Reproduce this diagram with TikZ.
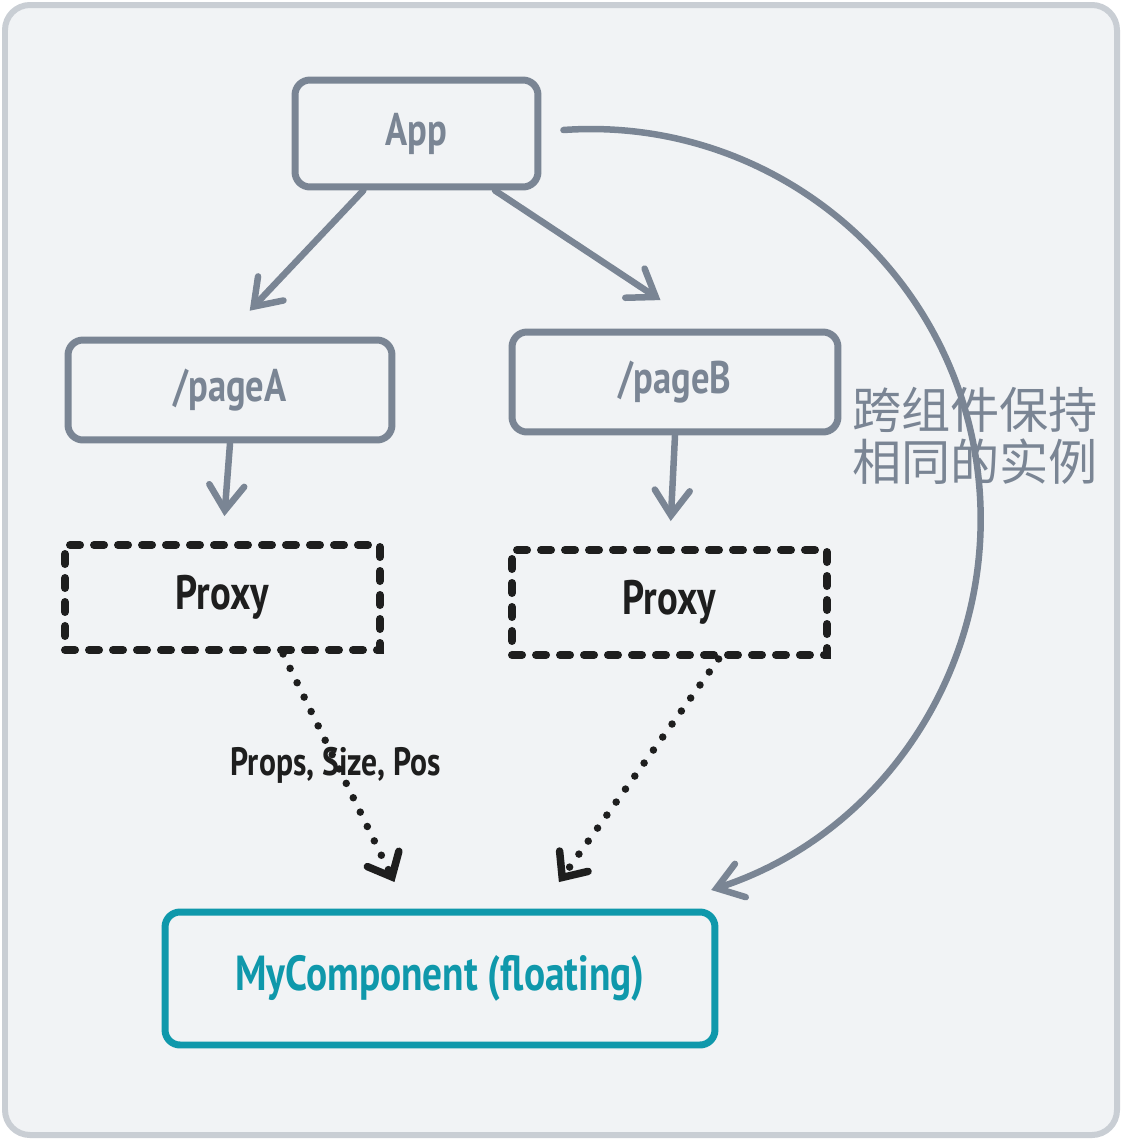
\documentclass[tikz,border=0pt]{standalone}
\usepackage{fontspec}
\usepackage{tikz}
\usetikzlibrary{arrows.meta}
\newfontfamily\handfont[FakeStretch=0.8]{PT Sans Bold}
\newfontfamily\cjkfont{Noto Sans CJK SC}
\definecolor{slate}{HTML}{7A8594}
\definecolor{teal}{HTML}{0F98AB}
\definecolor{ink}{HTML}{1E1E1E}
\definecolor{paper}{HTML}{F1F3F5}
\definecolor{frame}{HTML}{C9CED4}

\begin{document}
\begin{tikzpicture}[x=0.02cm, y=0.02cm,
    box/.style={draw=slate, line width=0.14cm, rounded corners=0.3cm, text=slate,
        font=\handfont\fontsize{26}{30}\selectfont},
    proxybox/.style={draw=ink, line width=0.16cm, line cap=round, dash pattern=on 0.2cm off 0.28cm,
        text=ink, minimum width=6.3cm, minimum height=2.1cm, font=\handfont\fontsize{27.5}{30}\selectfont},
    arr/.style={draw=slate, line width=0.13cm, line cap=round,
        -{Straight Barb[length=0.5cm, width=0.7cm, line cap=round]}},
    dotarr/.style={draw=ink, line width=0.15cm, line cap=round, dash pattern=on 0pt off 0.32cm,
        -{Straight Barb[length=0.4cm, width=0.7cm, line cap=round]}}]

    %%%%%%%%%%%%%%%%%%%%%%%%%%%%%%%%%%%%
    % canvas
    %%%%%%%%%%%%%%%%%%%%%%%%%%%%%%%%%%%%
    \fill[white] (0,0) rectangle (1122,-1140);
    \useasboundingbox (0,0) rectangle (1122,-1140);
    \draw[frame, fill=paper, line width=0.12cm, rounded corners=0.5cm] (5,-5) rectangle (1117,-1135);

    \node[box, minimum width=4.86cm, minimum height=2.14cm] (app) at (416.5,-133.5) {App};
    \node[box, minimum width=6.48cm, minimum height=2cm] (pageA) at (230,-390) {/pageA};
    \node[box, minimum width=6.52cm, minimum height=2cm] (pageB) at (675,-382) {/pageB};

    \node[proxybox] (proxyA) at (222.5,-597.5) {Proxy};
    \node[proxybox] (proxyB) at (669.5,-602.5) {Proxy};

    \node[draw=teal, line width=0.14cm, rounded corners=0.3cm, text=teal,
        minimum width=11cm, minimum height=2.66cm,
        font=\handfont\fontsize{28}{32}\selectfont] (comp) at (440,-978.5) {MyComponent (floating)};

    \draw[arr, shorten >=0.71cm] (app.227) -- (pageA.95);
    \draw[arr, shorten >=1.03cm] (app.324) -- (pageB.62);
    \draw[arr, shorten >=0.5cm] (pageA.south) -- (proxyA.north);
    \draw[arr, shorten >=0.5cm] (pageB.south) -- (proxyB.north);

    \draw[dotarr, shorten >=0.59cm] (proxyA.317) -- (comp.115);
    \draw[dotarr, shorten >=0.65cm] (proxyB.311) -- (comp.35);
    \node[text=ink, font=\handfont\fontsize{22.5}{26}\selectfont] (props) at (336,-765) {Props, Size, Pos};

    % same instance across pages
    \coordinate (arcstart) at ([xshift=0.44cm, yshift=0.07cm]app.east);
    \draw[arr] (arcstart) arc[start angle=94, end angle=-72, radius=390];
    \node[text=slate, align=center, font=\cjkfont\fontsize{28}{29.5}\selectfont] (same) at (975,-436)
        {跨组件保持\\相同的实例};

\end{tikzpicture}
\end{document}
